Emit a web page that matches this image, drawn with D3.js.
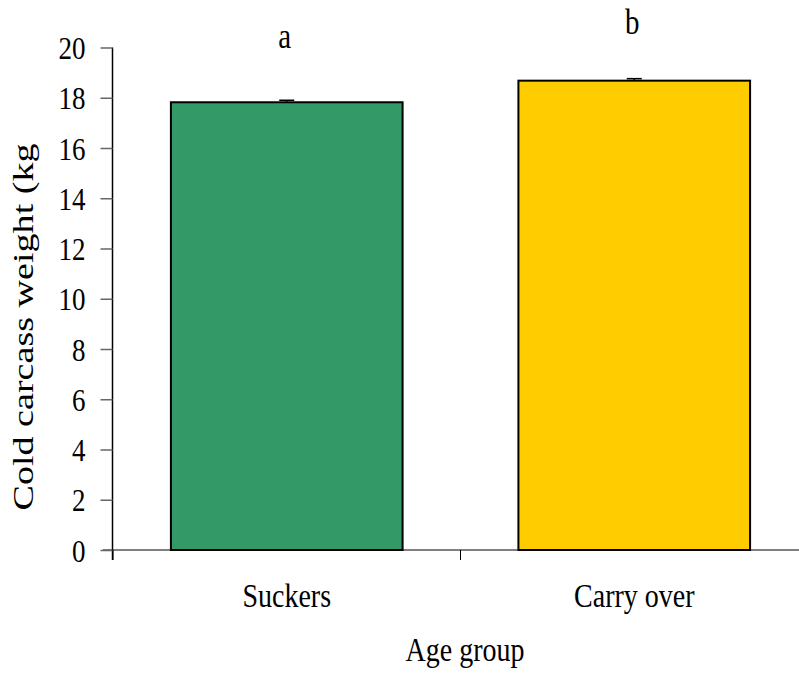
<!DOCTYPE html>
<html><head><meta charset="utf-8">
<script src="https://cdn.jsdelivr.net/npm/d3@7"></script>
<style>body{margin:0;background:#fff}svg{display:block}svg text{font-family:"Liberation Serif","Times New Roman",serif !important;fill:#000}</style>
</head><body>
<script>
const categories = ["Suckers", "Carry over"];
const values = [17.82, 18.68];
const errors = [0.08, 0.08];
const letters = ["a", "b"];
const colors = ["#339966", "#FFCC00"];
const yTicks = [0, 2, 4, 6, 8, 10, 12, 14, 16, 18, 20];

const W = 799, H = 673;
const SY = 1.2; // vertical text stretch seen in reference
const svg = d3.select("body").append("svg").attr("width", W).attr("height", H);

const x = d3.scaleBand().domain(categories).range([113, 808]).paddingInner(1/3).paddingOuter(1/6);
const y = d3.scaleLinear().domain([0, 20]).range([550, 47.5]);

// x axis line
svg.append("line").attr("x1", 103).attr("x2", 808).attr("y1", y(0)).attr("y2", y(0))
  .attr("stroke", "#808080").attr("stroke-width", 2);
const step = x.step();
[0, 1, 2].forEach(i => {
  const xp = 113 + i * step;
  svg.append("line").attr("x1", xp).attr("x2", xp).attr("y1", y(0)).attr("y2", y(0) + 10)
    .attr("stroke", "#000").attr("stroke-width", 1);
});

// y axis
const yAxis = d3.axisLeft(y).tickValues(yTicks).tickSize(12).tickPadding(15);
const gy = svg.append("g").attr("transform", "translate(112.5,0)").call(yAxis);
gy.attr("font-family", null).attr("font-size", null);
gy.select(".domain").attr("stroke", "#000").attr("stroke-width", 1.5).attr("d", `M0,${y(20)}V${y(0)+10}`);
gy.selectAll(".tick line").attr("stroke", "#666").attr("stroke-width", 1.5);
gy.selectAll(".tick text")
  .style("font-size", "27px")
  .attr("fill", "#000")
  .attr("dy", "0.34em")
  .attr("transform", `translate(0,0) scale(1,${SY})`)
  .attr("x", -27);
gy.selectAll(".tick").each(function(d) {
  // re-position text so the vertical stretch is centered on the tick
  d3.select(this).select("text").attr("transform", `scale(1,${SY})`);
});

// bars
svg.selectAll("rect.bar").data(categories).enter().append("rect")
  .attr("x", d => x(d)).attr("width", x.bandwidth())
  .attr("y", (d, i) => y(values[i])).attr("height", (d, i) => y(0) - y(values[i]))
  .attr("fill", (d, i) => colors[i]).attr("stroke", "#000").attr("stroke-width", 2);

function hText(px, py, str, size) {
  svg.append("text").attr("transform", `translate(${px},${py}) scale(1,${SY})`)
    .attr("text-anchor", "middle").style("font-size", size + "px").text(str);
}

const letterOffset = [54, 47];
categories.forEach((c, i) => {
  const cx = x(c) + x.bandwidth() / 2;
  const top = y(values[i] + errors[i]);
  svg.append("line").attr("x1", cx).attr("x2", cx).attr("y1", y(values[i])).attr("y2", top).attr("stroke", "#000").attr("stroke-width", 1.5);
  svg.append("line").attr("x1", cx - 7.5).attr("x2", cx + 7.5).attr("y1", top).attr("y2", top).attr("stroke", "#000").attr("stroke-width", 1.5);
  hText(cx - 2, y(values[i]) - letterOffset[i], letters[i], 29);
  hText(cx, 607, c, 28);
});

hText(465, 661, "Age group", 28);
svg.append("text").attr("transform", `translate(33,327) scale(1,1.27) rotate(-90)`)
  .attr("text-anchor", "middle").style("font-size", "30px").text("Cold carcass weight (kg");
</script>
</body></html>
